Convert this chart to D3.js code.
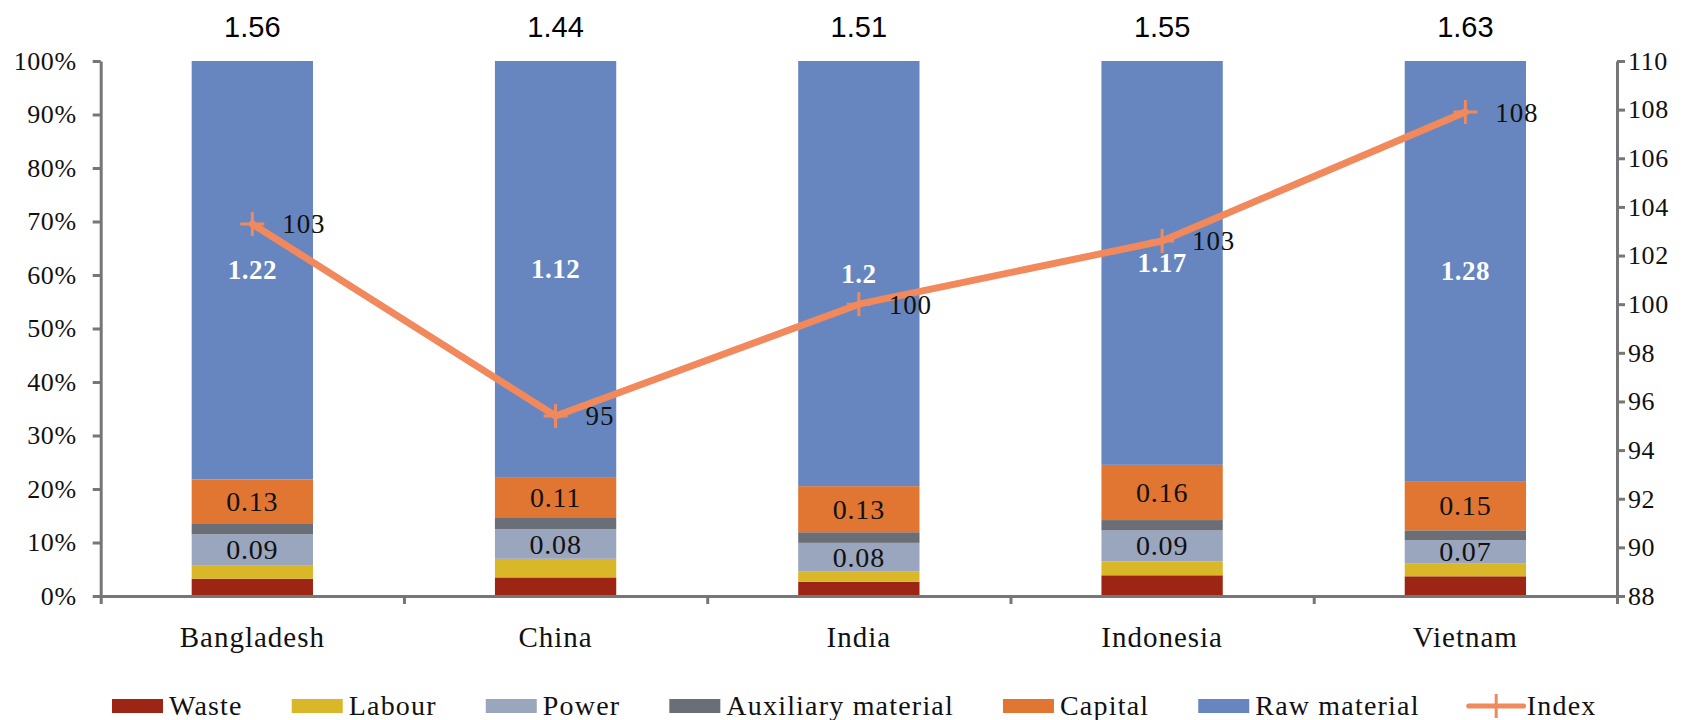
<!DOCTYPE html>
<html>
<head>
<meta charset="utf-8">
<script src="https://cdn.jsdelivr.net/npm/d3@7"></script>
<style>
  html, body { margin: 0; padding: 0; background: #ffffff; }
  svg { display: block; }
  .serif { font-family: "Liberation Serif", "Times New Roman", serif; }
  .sans { font-family: "Liberation Sans", Arial, sans-serif; }
</style>
</head>
<body>
<svg id="chart" width="1690" height="720"></svg>
<script>
// Cost components per country (USD), stacked to 100%
const categories = ["Bangladesh", "China", "India", "Indonesia", "Vietnam"];
const waste       = [0.05, 0.05, 0.04, 0.06, 0.06];
const labour      = [0.04, 0.05, 0.03, 0.04, 0.04];
const power       = [0.09, 0.08, 0.08, 0.09, 0.07];
const auxiliary   = [0.03, 0.03, 0.03, 0.03, 0.03];
const capital     = [0.13, 0.11, 0.13, 0.16, 0.15];
const rawMaterial = [1.22, 1.12, 1.20, 1.17, 1.28];
// Cost index (India = 100), right axis
const indexValues = [103.3, 95.4, 100, 102.6, 107.9];

const seriesNames = ["Waste", "Labour", "Power", "Auxiliary material", "Capital", "Raw material"];
const seriesValues = [waste, labour, power, auxiliary, capital, rawMaterial];
const seriesColors = ["#9d2514", "#dab629", "#9aa5be", "#6a6e76", "#e07631", "#6786bf"];
const labelledSeries = { "Power": "#111", "Capital": "#111", "Raw material": "#fff" };
const indexName = "Index";
const indexColor = "#f2895c";

const percentTicks = [0, 0.1, 0.2, 0.3, 0.4, 0.5, 0.6, 0.7, 0.8, 0.9, 1.0];
const indexTicks = [88, 90, 92, 94, 96, 98, 100, 102, 104, 106, 108, 110];

const svg = d3.select("#chart");
const plot = { left: 100.7, right: 1617, top: 61, bottom: 596 };
const axisColor = "#767676";

const x = d3.scaleBand().domain(categories).range([plot.left, plot.right])
  .paddingInner(0.6).paddingOuter(0.3);
const y = d3.scaleLinear().domain([0, 1]).range([plot.bottom, plot.top]);
const yIdx = d3.scaleLinear().domain([88, 110]).range([plot.bottom, plot.top]);

// Build rows and normalised stack
const rows = categories.map((c, i) => {
  const r = { category: c };
  seriesNames.forEach((s, k) => { r[s] = seriesValues[k][i]; });
  r.total = d3.sum(seriesValues, v => v[i]);
  return r;
});
const stack = d3.stack().keys(seriesNames).offset(d3.stackOffsetExpand);
const layers = stack(rows);

const fmtVal = d3.format(".3~g");

const barsG = svg.append("g");
layers.forEach((layer, k) => {
  const g = barsG.append("g").attr("fill", seriesColors[k]);
  g.selectAll("rect").data(layer).join("rect")
    .attr("x", d => x(d.data.category))
    .attr("width", x.bandwidth())
    .attr("y", d => y(d[1]))
    .attr("height", d => y(d[0]) - y(d[1]));
});

// Segment value labels
layers.forEach(layer => {
  const name = layer.key;
  if (!(name in labelledSeries)) return;
  const isRaw = name === "Raw material";
  barsG.append("g").selectAll("text").data(layer).join("text")
    .attr("class", "serif")
    .attr("x", d => x(d.data.category) + x.bandwidth() / 2)
    .attr("y", d => (y(d[0]) + y(d[1])) / 2)
    .attr("dy", "0.34em")
    .attr("text-anchor", "middle")
    .attr("font-size", isRaw ? 27 : 28)
    .attr("font-weight", isRaw ? "bold" : "normal")
    .attr("letter-spacing", isRaw ? 0.5 : 0.8)
    .attr("fill", labelledSeries[name])
    .text(d => fmtVal(d.data[name]));
});

// Totals above the bars
svg.append("g").selectAll("text").data(rows).join("text")
  .attr("class", "sans")
  .attr("x", d => x(d.category) + x.bandwidth() / 2)
  .attr("y", 37)
  .attr("text-anchor", "middle")
  .attr("font-size", 29)
  .attr("fill", "#000")
  .text(d => d3.format(".2f")(d.total));

// Left axis (percent)
const leftAxis = svg.append("g")
  .attr("transform", `translate(${plot.left},0)`)
  .call(d3.axisLeft(y).tickValues(percentTicks).tickFormat(d3.format(".0%"))
    .tickSize(8).tickSizeOuter(0).tickPadding(16));

// Right axis (index)
const rightAxis = svg.append("g")
  .attr("transform", `translate(${plot.right},0)`)
  .call(d3.axisRight(yIdx).tickValues(indexTicks).tickFormat(d3.format("d"))
    .tickSize(8).tickSizeOuter(0).tickPadding(3));

// Bottom axis: boundary ticks + category labels
const boundary = d3.scaleLinear().domain([0, categories.length]).range([plot.left, plot.right]);
const bottomTicks = svg.append("g")
  .attr("transform", `translate(0,${plot.bottom})`)
  .call(d3.axisBottom(boundary).tickValues(d3.range(categories.length + 1))
    .tickFormat("").tickSize(8).tickSizeOuter(0));
const bottomLabels = svg.append("g")
  .attr("transform", `translate(0,${plot.bottom})`)
  .call(d3.axisBottom(x).tickSize(0).tickPadding(30));
bottomLabels.select(".domain").remove();

[leftAxis, rightAxis, bottomTicks].forEach(g => {
  g.selectAll(".domain, .tick line").attr("stroke", axisColor).attr("stroke-width", 3);
});
[leftAxis, rightAxis].forEach(g => {
  g.selectAll(".tick text").attr("class", "serif").attr("font-size", 26)
    .attr("letter-spacing", 0.6).attr("fill", "#111");
});
bottomLabels.selectAll(".tick text").attr("class", "serif").attr("font-size", 29)
  .attr("letter-spacing", 1).attr("fill", "#111").attr("dy", "0.71em");

// Index line with plus markers
const idxPts = categories.map((c, i) => [x(c) + x.bandwidth() / 2, yIdx(indexValues[i])]);
svg.append("path")
  .attr("d", d3.line()(idxPts))
  .attr("fill", "none")
  .attr("stroke", indexColor)
  .attr("stroke-width", 7)
  .attr("stroke-linejoin", "round")
  .attr("stroke-linecap", "round");
svg.append("g").selectAll("path").data(idxPts).join("path")
  .attr("transform", d => `translate(${d[0]},${d[1]})`)
  .attr("d", "M-12,0H12M0,-12V12")
  .attr("stroke", indexColor)
  .attr("stroke-width", 3);
svg.append("g").selectAll("text").data(indexValues).join("text")
  .attr("class", "serif")
  .attr("x", (d, i) => idxPts[i][0] + 30)
  .attr("y", (d, i) => idxPts[i][1])
  .attr("dy", "0.35em")
  .attr("font-size", 27)
  .attr("letter-spacing", 0.8)
  .attr("fill", "#111")
  .text(d => d3.format(".0f")(d));

// Legend
const legend = svg.append("g");
let cx = 112;
const legY = 706;
const legendItems = seriesNames.map((n, k) => ({ name: n, color: seriesColors[k], type: "rect" }))
  .concat([{ name: indexName, color: indexColor, type: "line" }]);
legendItems.forEach(item => {
  if (item.type === "rect") {
    legend.append("rect").attr("x", cx).attr("y", legY - 7).attr("width", 51).attr("height", 14)
      .attr("fill", item.color);
  } else {
    legend.append("line").attr("x1", cx).attr("x2", cx + 55).attr("y1", legY).attr("y2", legY)
      .attr("stroke", item.color).attr("stroke-width", 5).attr("stroke-linecap", "round");
    legend.append("path").attr("transform", `translate(${cx + 27.5},${legY})`)
      .attr("d", "M-12,0H12M0,-12V12").attr("stroke", item.color).attr("stroke-width", 3);
  }
  const t = legend.append("text").attr("class", "serif")
    .attr("x", cx + (item.type === "rect" ? 57 : 58)).attr("y", legY + 9)
    .attr("font-size", 28).attr("letter-spacing", 1.2).attr("fill", "#111")
    .text(item.name);
  cx += (item.type === "rect" ? 57 : 58) + t.node().getComputedTextLength() + 49;
});
</script>
</body>
</html>
